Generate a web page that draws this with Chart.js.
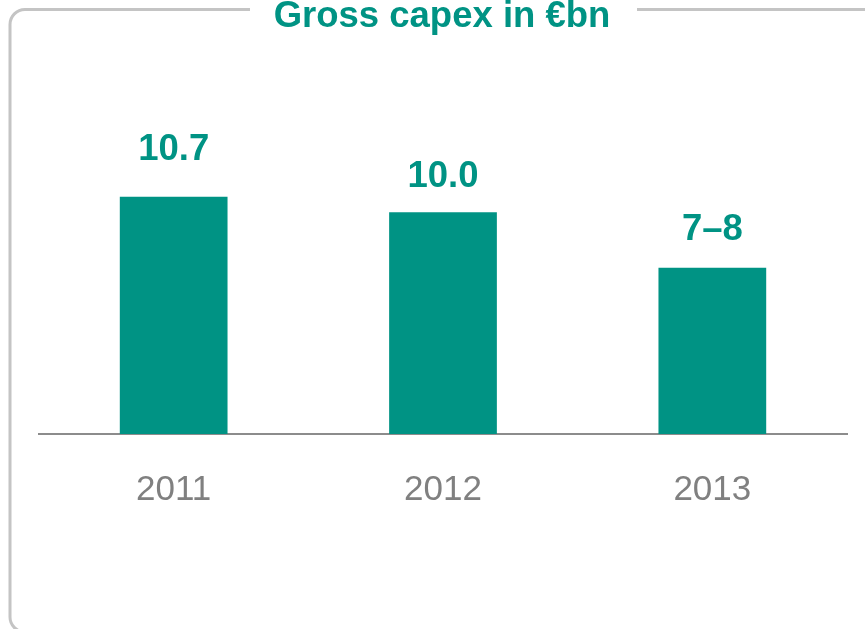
<!DOCTYPE html>
<html>
<head>
<meta charset="utf-8">
<title>Gross capex in €bn</title>
<script src="https://cdn.jsdelivr.net/npm/chart.js@4/dist/chart.umd.min.js"></script>
<style>
  html, body { margin: 0; padding: 0; background: #ffffff; }
  #wrap { position: relative; width: 865px; height: 629px; }
</style>
</head>
<body>
<div id="wrap"><canvas id="chart"></canvas></div>
<script>
// Gross capital expenditure, € billion
const years = ['2011', '2012', '2013'];
const capexValues = [10.7, 10.0, 7.5];      // 2013 is a guided range, bar at its midpoint
const valueLabels = ['10.7', '10.0', '7–8'];
const chartTitle = 'Gross capex in €bn';

const TEAL = '#009384';
const FONT = '"Liberation Sans", Arial, Helvetica, sans-serif';

// Rounded frame with a gap in the top edge holding the title
const framePlugin = {
  id: 'frame',
  beforeDraw(chart) {
    const ctx = chart.ctx;
    const left = 10, top = 9.5, bottom = 632, r = 15;
    const gapStart = 250, gapEnd = 637, farRight = 900;
    ctx.save();
    ctx.strokeStyle = '#c4c4c4';
    ctx.lineWidth = 3;
    ctx.beginPath();
    ctx.moveTo(gapStart, top);
    ctx.lineTo(left + r, top);
    ctx.arcTo(left, top, left, top + r, r);
    ctx.lineTo(left, bottom - r);
    ctx.arcTo(left, bottom, left + r, bottom, r);
    ctx.lineTo(farRight, bottom);
    ctx.stroke();
    ctx.beginPath();
    ctx.moveTo(gapEnd, top);
    ctx.lineTo(farRight, top);
    ctx.stroke();

    ctx.fillStyle = TEAL;
    ctx.font = 'bold 36.5px ' + FONT;
    ctx.textAlign = 'center';
    ctx.textBaseline = 'alphabetic';
    ctx.fillText(chartTitle, 442, 27);
    ctx.restore();
  }
};

// Value labels above each bar
const labelGap = [37, 25, 28];
const valueLabelPlugin = {
  id: 'valueLabels',
  afterDatasetsDraw(chart) {
    const ctx = chart.ctx;
    const meta = chart.getDatasetMeta(0);
    ctx.save();
    ctx.fillStyle = TEAL;
    ctx.font = 'bold 36.5px ' + FONT;
    ctx.textAlign = 'center';
    ctx.textBaseline = 'alphabetic';
    meta.data.forEach((bar, i) => {
      ctx.fillText(valueLabels[i], bar.x, bar.y - labelGap[i]);
    });
    ctx.restore();
  }
};

new Chart(document.getElementById('chart'), {
  type: 'bar',
  data: {
    labels: years,
    datasets: [{
      data: capexValues,
      backgroundColor: TEAL,
      borderWidth: 0,
      barPercentage: 0.4,
      categoryPercentage: 1.0
    }]
  },
  options: {
    responsive: true,
    maintainAspectRatio: false,
    animation: false,
    layout: { padding: { left: 39, right: 18, top: 101.5, bottom: 83 } },
    plugins: {
      legend: { display: false },
      title: { display: false },
      tooltip: { enabled: false }
    },
    scales: {
      x: {
        offset: true,
        grid: { display: false, drawTicks: false },
        border: { display: true, color: '#8c8c8c', width: 2 },
        ticks: {
          color: '#808080',
          padding: 35,
          font: { family: FONT, size: 35 }
        }
      },
      y: {
        display: false,
        min: 0,
        max: 15
      }
    }
  },
  plugins: [framePlugin, valueLabelPlugin]
});
</script>
</body>
</html>
